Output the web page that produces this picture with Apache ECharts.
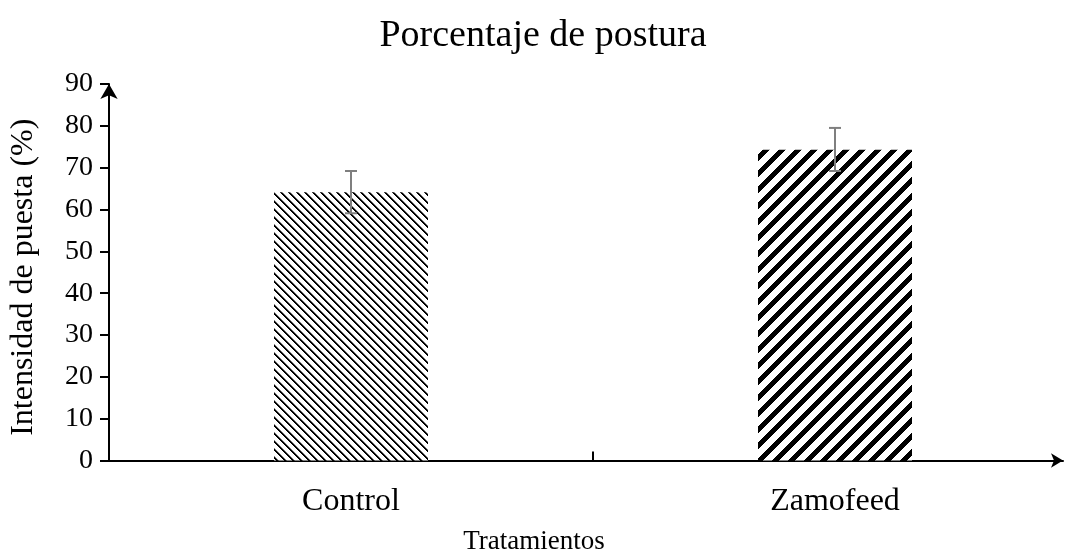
<!DOCTYPE html>
<html>
<head>
<meta charset="utf-8">
<script src="https://cdn.jsdelivr.net/npm/echarts@6/dist/echarts.min.js"></script>
<style>
  html, body { margin: 0; padding: 0; background: #fff; }
  #chart { width: 1068px; height: 555px; }
</style>
</head>
<body>
<div id="chart"></div>
<script>
// datos
var categories = ['Control', 'Zamofeed'];
var postura = [64.1, 74.3];
var errLow = [59.1, 69.2];
var errHigh = [69.2, 79.5];
var yTicks = [0, 10, 20, 30, 40, 50, 60, 70, 80, 90];

var FONT = 'Liberation Serif';

// trama diagonal fina (Control)
function patternFine() {
    var c = document.createElement('canvas');
    c.width = 8; c.height = 8;
    var ctx = c.getContext('2d');
    ctx.fillStyle = '#fff';
    ctx.fillRect(0, 0, 8, 8);
    for (var y = 0; y < 8; y++) {
        for (var x = 0; x < 8; x++) {
            var d = ((x - y) % 8 + 8) % 8;
            if (d === 0 || d === 1) { ctx.fillStyle = '#000'; ctx.fillRect(x, y, 1, 1); }
            else if (d === 2) { ctx.fillStyle = '#888'; ctx.fillRect(x, y, 1, 1); }
        }
    }
    return c;
}

// trama diagonal ancha (Zamofeed)
function patternWide() {
    var c = document.createElement('canvas');
    c.width = 16; c.height = 16;
    var ctx = c.getContext('2d');
    ctx.fillStyle = '#fff';
    ctx.fillRect(0, 0, 16, 16);
    ctx.fillStyle = '#000';
    for (var y = 0; y < 16; y++) {
        for (var x = 0; x < 16; x++) {
            if ((x + y) % 16 < 7) ctx.fillRect(x, y, 1, 1);
        }
    }
    return c;
}

var chart = echarts.init(document.getElementById('chart'));
var option = {
    animation: false,
    title: [{
        text: 'Porcentaje de postura',
        left: 538,
        textAlign: 'center',
        top: 12,
        textStyle: { fontFamily: FONT, fontSize: 38, fontWeight: 'normal', color: '#000' }
    }, {
        text: 'Tratamientos',
        left: 534,
        textAlign: 'center',
        top: 528,
        padding: 0,
        textStyle: { fontFamily: FONT, fontSize: 27, fontWeight: 'normal', color: '#000' }
    }],
    grid: [
        { left: 109, top: 84, width: 968, height: 376.5, outerBoundsMode: 'none' },
        { left: 109, top: 84, width: 954, height: 376.5, outerBoundsMode: 'none' }
    ],
    xAxis: [{
        type: 'category',
        gridIndex: 0,
        data: categories,
        axisLine: { show: false },
        axisTick: { show: true, inside: true, length: 9, lineStyle: { color: '#000', width: 2 } },
        axisLabel: { fontFamily: FONT, fontSize: 32, color: '#000', margin: 25 }
    }, {
        type: 'value',
        gridIndex: 1,
        min: 0, max: 1,
        axisLine: { show: true, symbol: ['none', 'arrow'], symbolSize: [11, 12], lineStyle: { color: '#000', width: 2 } },
        axisTick: { show: false },
        axisLabel: { show: false },
        splitLine: { show: false }
    }],
    yAxis: [{
        type: 'value',
        gridIndex: 0,
        min: 0, max: 90, interval: 10,
        axisLine: { show: true, symbol: ['none', 'arrow'], symbolSize: [13, 15], lineStyle: { color: '#000', width: 2 } },
        axisTick: { show: true, length: 9, lineStyle: { color: '#000', width: 2 } },
        axisLabel: {
            fontFamily: FONT, fontSize: 28, color: '#000', margin: 16,
            formatter: function (v) { return yTicks.indexOf(v) >= 0 ? String(v) : ''; }
        },
        splitLine: { show: false },
        name: 'Intensidad de puesta (%)',
        nameLocation: 'middle',
        nameGap: 69,
        nameTextStyle: { fontFamily: FONT, fontSize: 32, color: '#000', padding: [0, 10, 0, 0] }
    }, {
        type: 'value',
        gridIndex: 1,
        show: false
    }],
    series: [{
        type: 'bar',
        xAxisIndex: 0,
        yAxisIndex: 0,
        barWidth: 154,
        data: [
            { value: postura[0], itemStyle: { color: { image: patternFine(), repeat: 'repeat' } } },
            { value: postura[1], itemStyle: { color: { image: patternWide(), repeat: 'repeat' } } }
        ]
    }, {
        type: 'custom',
        xAxisIndex: 0,
        yAxisIndex: 0,
        z: 5,
        data: categories.map(function (c, i) { return [i, errLow[i], errHigh[i]]; }),
        renderItem: function (params, api) {
            var lo = api.coord([api.value(0), api.value(1)]);
            var hi = api.coord([api.value(0), api.value(2)]);
            var w = 6;
            var st = { stroke: '#7f7f7f', lineWidth: 2 };
            return {
                type: 'group',
                children: [
                    { type: 'line', shape: { x1: hi[0], y1: hi[1], x2: lo[0], y2: lo[1] }, style: st },
                    { type: 'line', shape: { x1: hi[0] - w, y1: hi[1], x2: hi[0] + w, y2: hi[1] }, style: st },
                    { type: 'line', shape: { x1: lo[0] - w, y1: lo[1], x2: lo[0] + w, y2: lo[1] }, style: st }
                ]
            };
        }
    }]
};
chart.setOption(option);
</script>
</body>
</html>
